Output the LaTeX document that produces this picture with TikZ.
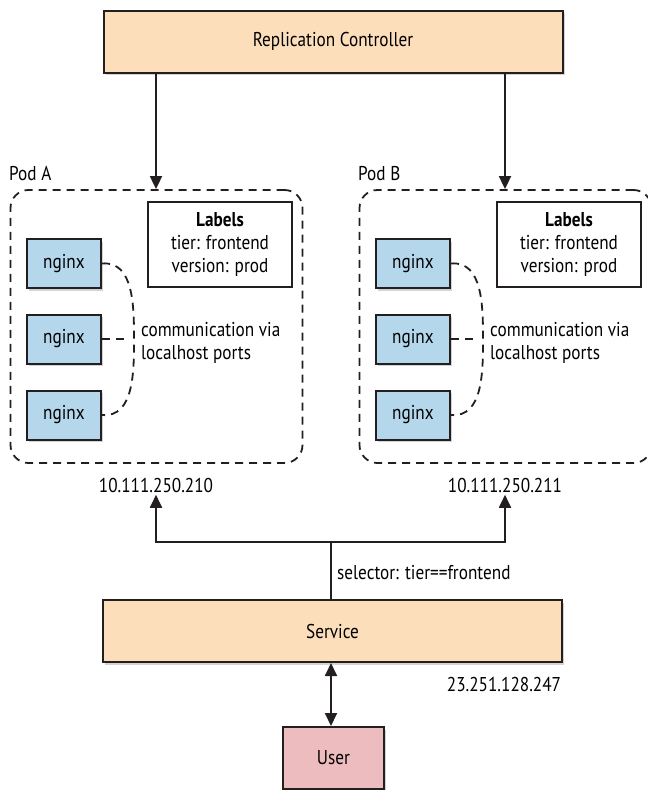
\documentclass[tikz,border=0pt]{standalone}
\usepackage{fontspec}
\setmainfont{PT Sans}[FakeStretch=0.86]
\usepackage{tikz}
\usetikzlibrary{shapes,shadows,arrows.meta,calc}
\definecolor{orange}{HTML}{FCDEBB}
\definecolor{bleu}{HTML}{B4D7EC}
\definecolor{rose}{HTML}{EDBCBE}
\definecolor{encre}{HTML}{231F20}

\begin{document}
\begin{tikzpicture}[x=1pt,y=-1pt,font=\fontsize{20}{23}\selectfont,
  boite/.style={draw=encre,line width=2pt,drop shadow={opacity=0.35,shadow xshift=2pt,shadow yshift=-2.5pt}},
  fleche/.style={-{Triangle[length=13pt,width=12pt]},line width=1.8pt,encre},
  pointille/.style={draw=encre,dash pattern=on 8pt off 6pt,line width=1.8pt}]
  \useasboundingbox (0,0) rectangle (648,790);
  \coordinate (RC) at (333,41.5);
  \coordinate (SV) at (332.5,631);
  \coordinate (US) at (333.5,758);
  \coordinate (PA) at (156.5,326.5);

  \node[
    boite,
    fill=orange,
    minimum width=459pt,
    minimum height=62pt] at (RC) (rc) {Replication Controller};

  % pods
  \foreach \p/\x/\lbl in {a/0/A,b/349/B}{
    \node[
      pointille,
      rounded corners=18pt,
      minimum width=292pt,
      minimum height=273pt] at ($(PA)+(\x,0)$) (pod\p) {};
    \node[anchor=base west,inner sep=0pt] at ($(9,180)+(\x,0)$) (nom\p) {Pod \lbl};
    \node[
      draw=encre,
      line width=2pt,
      fill=white,
      align=center,
      minimum width=144pt,
      minimum height=85pt,
      inner sep=2pt] at ($(220,244.5)+(\x,0)$) (lab\p) {\textbf{Labels}\\tier: frontend\\version: prod};
    \foreach \i/\y in {1/263.5,2/339,3/415}{
      \node[
        boite,
        fill=bleu,
        minimum width=74pt,
        minimum height=49pt] at ($(64,\y)+(\x,0)$) (\p\i) {nginx};
    }
    \coordinate (creux\p) at ($(134,339)+(\x,0)$);
    \draw[pointille] (\p1.east) to[out=5,in=90] (creux\p) to[out=-90,in=-5] (\p3.east);
    \draw[pointille] (\p2.east) -- ($(creux\p)+(-5,0)$);
    \node[anchor=west,align=left,inner sep=0pt] at ($(141,343)+(\x,0)$) (comm\p) {communication via\\localhost ports};
  }
  \node at (156,485) (ipa) {10.111.250.210};
  \node at (505,485) (ipb) {10.111.250.211};

  \draw[fleche] (rc.south -| ipa) -- (poda.north -| ipa);
  \draw[fleche] (rc.south -| ipb) -- (podb.north -| ipb);

  \node[
    boite,
    fill=orange,
    minimum width=459pt,
    minimum height=62pt] at (SV) (sv) {Service};
  \coordinate (noeud) at (331,542);
  \draw[line width=1.8pt,encre] (sv.north -| noeud) -- (noeud);
  \draw[fleche] (noeud) -| ([yshift=1pt]ipa.south);
  \draw[fleche] (noeud) -| ([yshift=1pt]ipb.south);
  \node[anchor=west,inner sep=0pt] at (337,573) (sel) {selector: tier==frontend};
  \node at (504,684) (ipsv) {23.251.128.247};

  \node[
    boite,
    fill=rose,
    minimum width=101pt,
    minimum height=62pt] at (US) (us) {User};
  \draw[fleche,{Triangle[length=13pt,width=12pt]}-{Triangle[length=13pt,width=12pt]}] (sv.south -| noeud) -- (us.north -| noeud);

\end{tikzpicture}
\end{document}
